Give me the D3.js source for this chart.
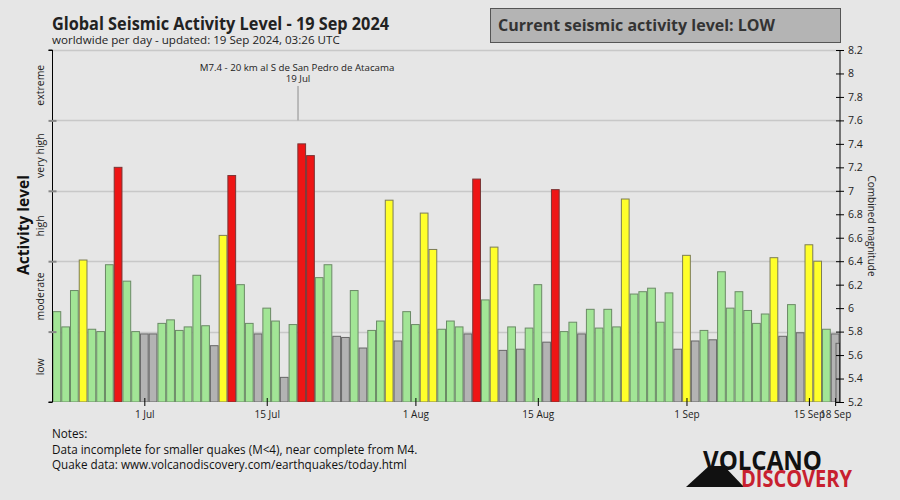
<!DOCTYPE html>
<html>
<head>
<meta charset="utf-8">
<script src="https://cdn.jsdelivr.net/npm/d3@7"></script>
<style>
  html, body { margin: 0; padding: 0; background: #e6e6e6; }
  svg { display: block; }
  text { font-family: "Open Sans", "Noto Sans", sans-serif; }
</style>
</head>
<body>
<svg id="chart" width="900" height="500"></svg>
<script>
// ---------------- data ----------------
const startDate = "2024-06-21";
const values = [
  5.97, 5.84, 6.15, 6.41, 5.82, 5.80, 6.37, 7.20, 6.23, 5.80,           // 21-30 Jun
  5.78, 5.78, 5.87, 5.90, 5.81, 5.84, 6.28, 5.85, 5.68, 6.62,           // 1-10 Jul
  7.13, 6.20, 5.87, 5.78, 6.00, 5.89, 5.41, 5.86, 7.40, 7.30,           // 11-20 Jul
  6.26, 6.37, 5.76, 5.75, 6.15, 5.66, 5.81, 5.89, 6.92, 5.72, 5.97,     // 21-31 Jul
  5.86, 6.81, 6.50, 5.82, 5.89, 5.84, 5.78, 7.10, 6.07, 6.52,           // 1-10 Aug
  5.64, 5.84, 5.65, 5.83, 6.20, 5.71, 7.01, 5.80, 5.88, 5.78,           // 11-20 Aug
  5.99, 5.83, 5.99, 5.84, 6.93, 6.12, 6.14, 6.17, 5.88, 6.13, 5.65,     // 21-31 Aug
  6.45, 5.72, 5.81, 5.73, 6.31, 6.00, 6.14, 5.98, 5.87, 5.95,           // 1-10 Sep
  6.43, 5.76, 6.03, 5.79, 6.54, 6.40, 5.82, 5.78, 5.70                  // 11-19 Sep
];
const levelNames = ["low", "moderate", "high", "very high", "extreme"];
const levelBounds = [5.2, 5.8, 6.4, 7.0, 7.6, 8.2];
const magTicks = [5.2, 5.4, 5.6, 5.8, 6.0, 6.2, 6.4, 6.6, 6.8, 7.0, 7.2, 7.4, 7.6, 7.8, 8.0, 8.2];
const dateTicks = ["2024-07-01", "2024-07-15", "2024-08-01", "2024-08-15", "2024-09-01", "2024-09-15", "2024-09-18"];
const dateTickLabels = ["1 Jul", "15 Jul", "1 Aug", "15 Aug", "1 Sep", "15 Sep", "18 Sep"];
const eventTime = "2024-07-19T01:50:00Z";
const eventLabel = "M7.4 - 20 km al S de San Pedro de Atacama";
const eventDateLabel = "19 Jul";
const title = "Global Seismic Activity Level - 19 Sep 2024";
const subtitle = "worldwide per day - updated: 19 Sep 2024, 03:26 UTC";
const statusText = "Current seismic activity level: LOW";
const notes = ["Notes:", "Data incomplete for smaller quakes (M<4), near complete from M4.", "Quake data: www.volcanodiscovery.com/earthquakes/today.html"];

// ---------------- setup ----------------
const svg = d3.select("#chart");
const DAY = 864e5;
const t0 = new Date(startDate + "T00:00:00Z");
const data = values.map((v, i) => ({ date: new Date(t0.getTime() + i * DAY), v, i }));
const lastDay = data[data.length - 1].date;

const PL = 52.5, PR = 839.5, PT = 50, PB = 402;
const x = d3.scaleUtc().domain([t0, lastDay]).range([PL, PR]);
const y = d3.scaleLinear().domain([5.2, 8.2]).range([PB, PT]);
const step = x(new Date(t0.getTime() + DAY)) - x(t0);

function colorOf(v) {
  if (v >= 7.0) return { fill: "#ee1515", stroke: "#7a3535" };
  if (v >= 6.4) return { fill: "#ffff2a", stroke: "#7d7d55" };
  if (v >= 5.8) return { fill: "#a2e596", stroke: "#6b8a66" };
  return { fill: "#b3b3b3", stroke: "#666666" };
}

svg.append("rect").attr("width", 900).attr("height", 500).attr("fill", "#e6e6e6");

// title
svg.append("text").attr("x", 52).attr("y", 30).attr("font-size", 17).attr("font-weight", "bold")
  .attr("textLength", 337).attr("lengthAdjust", "spacingAndGlyphs")
  .attr("fill", "#222").text(title);
svg.append("text").attr("x", 52).attr("y", 44).attr("font-size", 11.6).attr("fill", "#222").text(subtitle);

// status box
svg.append("rect").attr("x", 490.5).attr("y", 8.5).attr("width", 350).attr("height", 34)
  .attr("fill", "#b4b4b4").attr("stroke", "#555").attr("stroke-width", 1);
svg.append("text").attr("x", 498).attr("y", 31).attr("font-size", 16.5).attr("font-weight", "bold")
  .attr("textLength", 277).attr("lengthAdjust", "spacingAndGlyphs")
  .attr("fill", "#333").text(statusText);

// gridlines at level bounds
svg.append("g").selectAll("line").data(levelBounds.slice(1)).join("line")
  .attr("x1", PL).attr("x2", PR + 0.5)
  .attr("y1", d => Math.round(y(d)) + 0.5).attr("y2", d => Math.round(y(d)) + 0.5)
  .attr("stroke", "#c8c8c8").attr("stroke-width", 1.5);

// bars
svg.append("clipPath").attr("id", "plotclip").append("rect")
  .attr("x", PL - 1).attr("y", PT - 5).attr("width", PR - PL + 1.5).attr("height", PB - PT + 5);
const barG = svg.append("g").attr("clip-path", "url(#plotclip)");
const full = data.slice(0, data.length - 1);
const partial = data[data.length - 1];
barG.selectAll("rect.bar").data(full).join("rect").attr("class", "bar")
  .attr("x", d => x(d.date) + 0.5)
  .attr("width", step - 1)
  .attr("y", d => y(d.v))
  .attr("height", d => y(5.2) - y(d.v))
  .attr("fill", d => colorOf(d.v).fill)
  .attr("stroke", d => colorOf(d.v).stroke)
  .attr("stroke-width", 1);
// current (partial) day drawn narrow at the right edge
barG.append("rect")
  .attr("x", x(partial.date) - step * 0.4)
  .attr("width", step * 0.4)
  .attr("y", y(partial.v))
  .attr("height", y(5.2) - y(partial.v))
  .attr("fill", colorOf(partial.v).fill)
  .attr("stroke", colorOf(partial.v).stroke)
  .attr("stroke-width", 1);

// left axis
const leftAxis = d3.axisLeft(y).tickValues(levelBounds).tickSize(4).tickFormat("");
const gL = svg.append("g").attr("transform", `translate(${PL},0)`).call(leftAxis);
gL.select(".domain").attr("stroke", "#000").attr("d", `M-4,${PT}H0V${PB}H-4`);
gL.selectAll(".tick line").attr("x1", -4).attr("x2", d => (d === 5.2 || d === 8.2) ? 0 : 4)
  .attr("stroke", d => (d === 5.2 || d === 8.2) ? "#000" : "#888").attr("stroke-width", d => (d === 5.2 || d === 8.2) ? 1 : 2);

// level labels
svg.append("g").selectAll("text").data(levelNames).join("text")
  .attr("transform", (d, i) => `translate(44,${(y(levelBounds[i]) + y(levelBounds[i + 1])) / 2}) rotate(-90)`)
  .attr("text-anchor", "middle").attr("font-size", 10.5).attr("fill", "#222").text(d => d);
svg.append("text").attr("transform", `translate(29,225) rotate(-90)`).attr("text-anchor", "middle")
  .attr("font-size", 15.5).attr("font-weight", "bold").attr("fill", "#111").text("Activity level");

// right axis
const rightAxis = d3.axisRight(y).tickValues(magTicks).tickSize(4).tickPadding(4).tickFormat(d3.format("~g"));
const gR = svg.append("g").attr("transform", `translate(${PR + 0.5},0)`).call(rightAxis);
gR.select(".domain").attr("d", `M0,${PT}V${PB}`).attr("stroke", "#000");
gR.selectAll(".tick line").attr("x1", -4).attr("x2", 4).attr("stroke", "#000");
gR.selectAll(".tick text").attr("font-size", 10.5).attr("fill", "#222")
  .attr("font-family", "'Open Sans', sans-serif");
svg.append("text").attr("transform", `translate(868,226) rotate(90)`).attr("text-anchor", "middle")
  .attr("font-size", 10).attr("fill", "#222").text("Combined magnitude");

// bottom axis
const tickDates = dateTicks.map(s => new Date(s + "T12:00:00Z"));
const bottomAxis = d3.axisBottom(x).tickValues(tickDates).tickSize(4).tickPadding(5)
  .tickFormat((d, i) => dateTickLabels[i]);
const gB = svg.append("g").attr("transform", `translate(0,${PB})`).call(bottomAxis);
gB.select(".domain").remove();
gB.selectAll(".tick line").attr("y1", -4).attr("y2", 4).attr("stroke", "#000");
gB.selectAll(".tick text").attr("font-size", 10).attr("fill", "#222")
  .attr("font-family", "'Open Sans', sans-serif");

// event annotation
const ex = x(new Date(eventTime));
svg.append("line").attr("x1", ex).attr("x2", ex).attr("y1", 86).attr("y2", y(7.6))
  .attr("stroke", "#aaa").attr("stroke-width", 1.5);
svg.append("text").attr("x", ex - 1).attr("y", 70.5).attr("text-anchor", "middle").attr("font-size", 9.7)
  .attr("fill", "#222").text(eventLabel);
svg.append("text").attr("x", ex).attr("y", 82).attr("text-anchor", "middle").attr("font-size", 9.7)
  .attr("fill", "#222").text(eventDateLabel);

// notes
svg.append("g").selectAll("text").data(notes).join("text")
  .attr("x", 52).attr("y", (d, i) => 438 + i * 15.5)
  .attr("font-size", 11.7).attr("fill", "#111").text(d => d);

// logo
const logo = svg.append("g");
logo.append("path").attr("d", "M686,487 L709,466 L724,466 L744,487 Z").attr("fill", "#111");
logo.append("text").attr("x", 703).attr("y", 470).attr("font-size", 27).attr("font-weight", "bold")
  .attr("font-family", "'Liberation Sans Narrow', 'Roboto', sans-serif")
  .attr("textLength", 119).attr("lengthAdjust", "spacingAndGlyphs").attr("fill", "#111").text("VOLCANO");
logo.append("text").attr("x", 741).attr("y", 487).attr("font-size", 23).attr("font-weight", "bold")
  .attr("font-family", "'Liberation Sans Narrow', 'Roboto', sans-serif")
  .attr("textLength", 111).attr("lengthAdjust", "spacingAndGlyphs").attr("fill", "#c8202f").text("DISCOVERY");
</script>
</body>
</html>
